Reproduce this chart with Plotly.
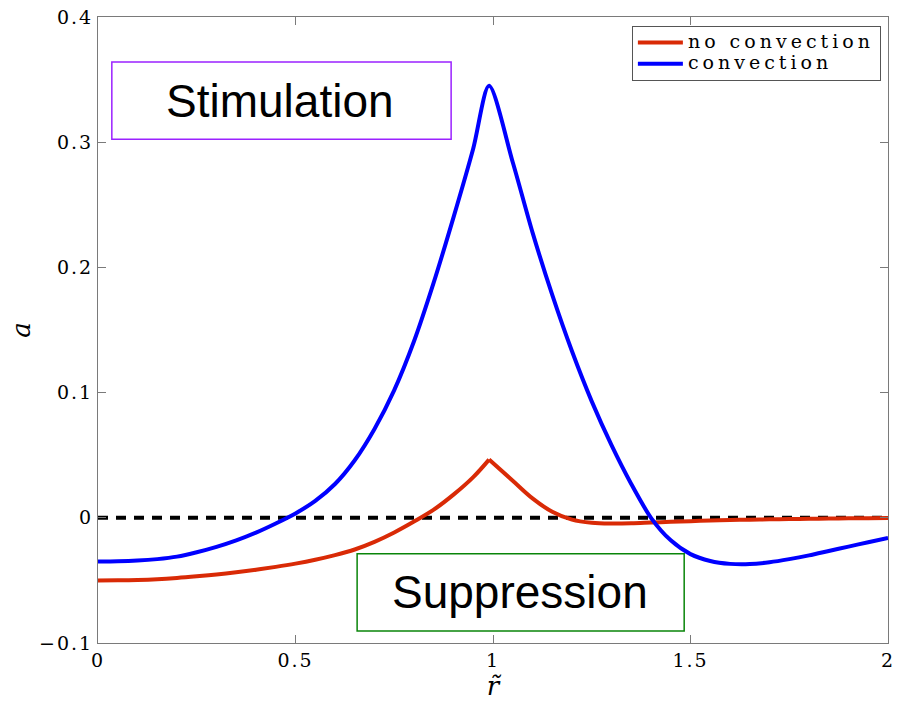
import plotly.graph_objects as go

# ---- data ----
r_conv = [0.0, 0.05, 0.1, 0.15, 0.2, 0.25, 0.3, 0.35, 0.4, 0.45, 0.5, 0.55, 0.6, 0.65, 0.7,
          0.75, 0.8, 0.85, 0.9, 0.95, 0.99, 1.05, 1.1, 1.15, 1.2, 1.25, 1.3, 1.35, 1.4,
          1.45, 1.5, 1.55, 1.6, 1.65, 1.7, 1.75, 1.8, 1.85, 1.9, 1.95, 2.0]
a_conv = [-0.035, -0.0348, -0.0342, -0.0330, -0.0310, -0.0275, -0.0232, -0.0180, -0.0118,
          -0.0045, 0.0035, 0.0135, 0.027, 0.046, 0.071, 0.102, 0.141, 0.188, 0.240, 0.295,
          0.345, 0.284, 0.228, 0.178, 0.133, 0.093, 0.058, 0.027, 0.0, -0.018, -0.029,
          -0.0345, -0.0368, -0.0370, -0.0355, -0.0330, -0.0300, -0.0265, -0.0230, -0.0195,
          -0.016]

r_noconv = [0.0, 0.05, 0.1, 0.15, 0.2, 0.25, 0.3, 0.35, 0.4, 0.45, 0.5, 0.55, 0.6, 0.65, 0.7,
            0.75, 0.8, 0.85, 0.9, 0.95, 0.99, 1.05, 1.1, 1.15, 1.2, 1.25, 1.3, 1.35, 1.4,
            1.45, 1.5, 1.55, 1.6, 1.65, 1.7, 1.75, 1.8, 1.85, 1.9, 1.95, 2.0]
a_noconv = [-0.0500, -0.0499, -0.0496, -0.0490, -0.0480, -0.0467, -0.0452, -0.0435, -0.0415,
            -0.0392, -0.0366, -0.0335, -0.0298, -0.0253, -0.0192, -0.0117, -0.0030, 0.0065,
            0.0185, 0.0325, 0.0465, 0.0296, 0.0155, 0.0048, -0.0015, -0.0040, -0.0046,
            -0.0044, -0.0038, -0.0032, -0.0027, -0.0022, -0.0018, -0.0015, -0.0012, -0.0010,
            -0.0008, -0.0006, -0.0004, -0.0003, -0.0002]

zero_x = [0.0, 2.0]
zero_y = [0.0, 0.0]

series_names = ["no convection", "convection"]
x_tickvals = [0, 0.5, 1, 1.5, 2]
x_ticktext = ["0", "0.5", "1", "1.5", "2"]
y_tickvals = [-0.1, 0, 0.1, 0.2, 0.3, 0.4]
y_ticktext = ["\u22120.1", "0", "0.1", "0.2", "0.3", "0.4"]
region_labels = ["Stimulation", "Suppression"]

RED = "#d92a06"
BLUE = "#0000ff"
SERIF = "DejaVu Serif"
AXC = "#7a7a7a"


def spaced(t, px=2, size=None):
    st = "letter-spacing:%spx" % px
    if size:
        st = "font-size:%spx;" % size + st
    return '<span style="%s">%s</span>' % (st, t)


fig = go.Figure()
fig.add_trace(go.Scatter(x=zero_x, y=zero_y, mode="lines", showlegend=False,
                         line=dict(color="black", width=4, dash="10px,8px"),
                         hoverinfo="skip"))

# red curve: two smooth pieces meeting at the cusp
k = a_noconv.index(max(a_noconv))
fig.add_trace(go.Scatter(x=r_noconv[:k + 1], y=a_noconv[:k + 1], mode="lines",
                         name=spaced(series_names[0], 4, 19), legendgroup="nc",
                         line=dict(color=RED, width=4, shape="spline", smoothing=1)))
fig.add_trace(go.Scatter(x=r_noconv[k:], y=a_noconv[k:], mode="lines",
                         showlegend=False, legendgroup="nc",
                         line=dict(color=RED, width=4, shape="spline", smoothing=1)))
fig.add_trace(go.Scatter(x=r_conv, y=a_conv, mode="lines",
                         name=spaced(series_names[1], 4, 19),
                         line=dict(color=BLUE, width=4, shape="spline", smoothing=0.8)))

# annotation boxes
fig.add_shape(type="rect", xref="x", yref="y", x0=0.035, x1=0.894, y0=0.3024, y1=0.364,
              line=dict(color="#9b22ff", width=1.5), fillcolor="white", layer="above")
fig.add_shape(type="rect", xref="x", yref="y", x0=0.656, x1=1.484, y0=-0.0904, y1=-0.0288,
              line=dict(color="#0a850a", width=1.5), fillcolor="white", layer="above")
fig.add_annotation(x=0.4615, y=0.3332, xref="x", yref="y", text=region_labels[0],
                   showarrow=False, font=dict(family="Liberation Sans", size=46, color="black"))
fig.add_annotation(x=1.068, y=-0.0596, xref="x", yref="y", text=region_labels[1],
                   showarrow=False, font=dict(family="Liberation Sans", size=46, color="black"))

axis_common = dict(showline=True, mirror="ticks", linecolor=AXC, linewidth=1,
                   ticks="inside", ticklen=8, tickcolor=AXC, tickwidth=1,
                   showgrid=False, zeroline=False, automargin=False,
                   tickfont=dict(family=SERIF, size=19, color="black"))

fig.update_layout(
    width=906, height=711,
    margin=dict(l=98, r=18, t=17, b=68),
    paper_bgcolor="white", plot_bgcolor="white",
    xaxis=dict(range=[0, 2], tickvals=x_tickvals,
               ticktext=[spaced(t, 2) for t in x_ticktext],
               title=dict(text="<i>r\u0303</i>", font=dict(family=SERIF, size=26, color="black"),
                          standoff=2),
               **axis_common),
    yaxis=dict(range=[-0.1, 0.4], tickvals=y_tickvals,
               ticktext=[spaced(t, 2) for t in y_ticktext],
               title=dict(text="<i>a</i>", font=dict(family=SERIF, size=26, color="black"),
                          standoff=0),
               **axis_common),
    legend=dict(x=0.991, y=0.9856, xanchor="right", yanchor="top",
                bgcolor="white", bordercolor="#555555", borderwidth=1,
                font=dict(family=SERIF, size=14, color="black"),
                tracegroupgap=0, itemwidth=45),
    showlegend=True,
)

fig.write_html("out.html")
